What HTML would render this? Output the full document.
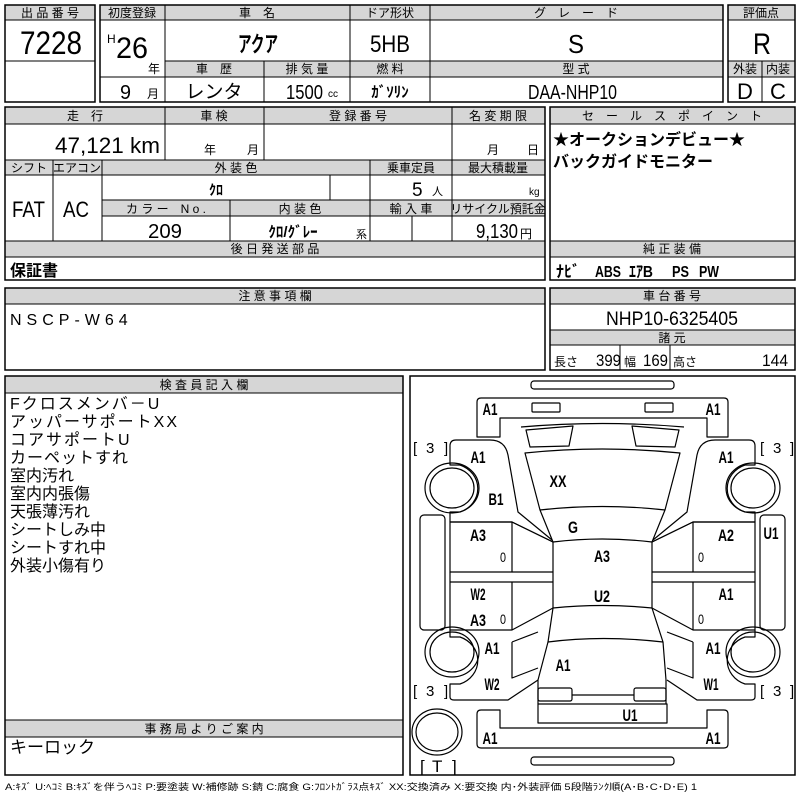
<!DOCTYPE html>
<html><head><meta charset="utf-8"><style>
html,body{margin:0;padding:0;background:#fff;}
svg{display:block;}
text{font-family:"Liberation Sans","Noto Sans CJK JP",sans-serif;fill:#000;}
.h{font-size:12px;text-anchor:middle;}
.m{text-anchor:middle;}
.g{fill:#d6d6d6;}
.b{fill:none;stroke:#000;stroke-width:1.5;}
.l{stroke:#000;stroke-width:1;}
.d{fill:none;stroke:#000;stroke-width:1.2;stroke-linejoin:round;}
.dl{font-size:17px;text-anchor:middle;}
</style></head><body>
<svg width="800" height="800" viewBox="0 0 800 800" xmlns="http://www.w3.org/2000/svg">
<!-- Box 1 -->
<rect class="g" x="5" y="5" width="90" height="15"/>
<rect class="b" x="5" y="5" width="90" height="97"/>
<line class="l" x1="5" y1="20" x2="95" y2="20"/>
<line class="l" x1="5" y1="61" x2="95" y2="61"/>
<text class="h" x="50" y="17">出 品 番 号</text>
<text x="20" y="54" font-size="32" textLength="62" lengthAdjust="spacingAndGlyphs">7228</text>

<!-- Box 2 -->
<rect class="g" x="100" y="5" width="623" height="15"/>
<rect class="g" x="165" y="61" width="558" height="16"/>
<rect class="b" x="100" y="5" width="623" height="97"/>
<line class="l" x1="100" y1="20" x2="723" y2="20"/>
<line class="l" x1="165" y1="61" x2="723" y2="61"/>
<line class="l" x1="165" y1="77" x2="723" y2="77"/>
<line class="l" x1="100" y1="77" x2="165" y2="77"/>
<line class="l" x1="165" y1="5" x2="165" y2="102"/>
<line class="l" x1="350" y1="5" x2="350" y2="102"/>
<line class="l" x1="430" y1="5" x2="430" y2="102"/>
<line class="l" x1="264" y1="61" x2="264" y2="102"/>
<text class="h" x="132" y="17">初度登録</text>
<text class="h" x="257" y="17">車　名</text>
<text class="h" x="390" y="17">ドア形状</text>
<text class="h" x="576" y="17">グ　レ　ー　ド</text>
<text x="107" y="43" font-size="12">H</text>
<text x="116" y="58" font-size="30" textLength="32" lengthAdjust="spacingAndGlyphs">26</text>
<text x="148" y="73" font-size="12">年</text>
<text x="238" y="52" font-size="22" font-weight="bold" textLength="40" lengthAdjust="spacingAndGlyphs">アクア</text>
<text x="370" y="52" font-size="24" textLength="40" lengthAdjust="spacingAndGlyphs">5HB</text>
<text x="568" y="53" font-size="26" textLength="16" lengthAdjust="spacingAndGlyphs">S</text>
<text class="h" x="214" y="73">車　歴</text>
<text class="h" x="307" y="73">排 気 量</text>
<text class="h" x="390" y="73">燃 料</text>
<text class="h" x="576" y="73">型 式</text>
<text x="120" y="99" font-size="20" textLength="11" lengthAdjust="spacingAndGlyphs">9</text>
<text x="147" y="98" font-size="12">月</text>
<text class="m" x="214" y="98" font-size="19">レンタ</text>
<text x="286" y="99" font-size="20" textLength="37" lengthAdjust="spacingAndGlyphs">1500</text>
<text x="328" y="97" font-size="10">cc</text>
<text class="m" x="390" y="97" font-size="15" font-weight="bold">ｶﾞｿﾘﾝ</text>
<text x="528" y="99" font-size="20" textLength="89" lengthAdjust="spacingAndGlyphs">DAA-NHP10</text>

<!-- Box 3 -->
<rect class="g" x="728" y="5" width="67" height="15"/>
<rect class="g" x="728" y="61" width="67" height="16"/>
<rect class="b" x="728" y="5" width="67" height="97"/>
<line class="l" x1="728" y1="20" x2="795" y2="20"/>
<line class="l" x1="728" y1="61" x2="795" y2="61"/>
<line class="l" x1="728" y1="77" x2="795" y2="77"/>
<line class="l" x1="762" y1="61" x2="762" y2="102"/>
<text class="h" x="761" y="17">評価点</text>
<text x="753" y="54" font-size="30" textLength="18" lengthAdjust="spacingAndGlyphs">R</text>
<text class="h" x="745" y="73">外装</text>
<text class="h" x="778" y="73">内装</text>
<text class="m" x="745" y="99" font-size="22">D</text>
<text class="m" x="778" y="99" font-size="22">C</text>

<!-- Row 2 left -->
<rect class="g" x="5" y="107" width="540" height="17"/>
<rect class="g" x="5" y="160" width="540" height="15"/>
<rect class="g" x="102" y="200" width="443" height="16"/>
<rect class="g" x="5" y="241" width="540" height="16"/>
<rect class="b" x="5" y="107" width="540" height="173"/>
<line class="l" x1="5" y1="124" x2="545" y2="124"/>
<line class="l" x1="5" y1="160" x2="545" y2="160"/>
<line class="l" x1="5" y1="175" x2="545" y2="175"/>
<line class="l" x1="102" y1="200" x2="545" y2="200"/>
<line class="l" x1="102" y1="216" x2="545" y2="216"/>
<line class="l" x1="5" y1="241" x2="545" y2="241"/>
<line class="l" x1="5" y1="257" x2="545" y2="257"/>
<line class="l" x1="165" y1="107" x2="165" y2="160"/>
<line class="l" x1="264" y1="107" x2="264" y2="160"/>
<line class="l" x1="452" y1="107" x2="452" y2="241"/>
<line class="l" x1="53" y1="160" x2="53" y2="241"/>
<line class="l" x1="102" y1="160" x2="102" y2="241"/>
<line class="l" x1="370" y1="160" x2="370" y2="241"/>
<line class="l" x1="330" y1="175" x2="330" y2="200"/>
<line class="l" x1="230" y1="200" x2="230" y2="241"/>
<line class="l" x1="412" y1="216" x2="412" y2="241"/>
<text class="h" x="85" y="120">走　行</text>
<text class="h" x="214" y="120">車 検</text>
<text class="h" x="358" y="120">登 録 番 号</text>
<text class="h" x="498" y="120">名 変 期 限</text>
<text x="55" y="153" font-size="22" textLength="105" lengthAdjust="spacingAndGlyphs">47,121 km</text>
<text x="204" y="154" font-size="12">年</text>
<text x="247" y="154" font-size="12">月</text>
<text x="487" y="154" font-size="12">月</text>
<text x="527" y="154" font-size="12">日</text>
<text class="h" x="29" y="172" font-size="11">シフト</text>
<text class="h" x="77" y="172" font-size="11">エアコン</text>
<text class="h" x="236" y="172">外 装 色</text>
<text class="h" x="411" y="172">乗車定員</text>
<text class="h" x="498" y="172">最大積載量</text>
<text x="12" y="217" font-size="22" textLength="33" lengthAdjust="spacingAndGlyphs">FAT</text>
<text x="63" y="217" font-size="22" textLength="26" lengthAdjust="spacingAndGlyphs">AC</text>
<text class="m" x="216" y="195" font-size="14" font-weight="bold">ｸﾛ</text>
<text x="412" y="196" font-size="19">5</text>
<text x="432" y="195" font-size="11">人</text>
<text x="529" y="195" font-size="10">kg</text>
<text class="h" x="166" y="213">カ ラ ー　N o .</text>
<text class="h" x="300" y="213">内 装 色</text>
<text class="h" x="411" y="213">輸 入 車</text>
<text class="h" x="498" y="213" font-size="11">リサイクル預託金</text>
<text x="148" y="238" font-size="20" textLength="34" lengthAdjust="spacingAndGlyphs">209</text>
<text class="m" x="293" y="237" font-size="15" font-weight="bold">ｸﾛ/ｸﾞﾚｰ</text>
<text x="356" y="238" font-size="11">系</text>
<text x="476" y="238" font-size="20" textLength="42" lengthAdjust="spacingAndGlyphs">9,130</text>
<text x="520" y="238" font-size="12">円</text>
<text class="h" x="275" y="253">後 日 発 送 部 品</text>
<text x="10" y="276" font-size="16" font-weight="bold">保証書</text>

<!-- Row 2 right -->
<rect class="g" x="550" y="107" width="245" height="17"/>
<rect class="g" x="550" y="241" width="245" height="16"/>
<rect class="b" x="550" y="107" width="245" height="173"/>
<line class="l" x1="550" y1="124" x2="795" y2="124"/>
<line class="l" x1="550" y1="241" x2="795" y2="241"/>
<line class="l" x1="550" y1="257" x2="795" y2="257"/>
<text class="h" x="672" y="120">セ　ー　ル　ス　ポ　イ　ン　ト</text>
<text x="553" y="145" font-size="16" font-weight="bold">★オークションデビュー★</text>
<text x="553" y="167" font-size="16" font-weight="bold">バックガイドモニター</text>
<text class="h" x="672" y="253">純 正 装 備</text>
<g font-size="16" font-weight="bold">
<text x="556" y="277">ﾅﾋﾞ</text>
<text x="595" y="277" textLength="26" lengthAdjust="spacingAndGlyphs">ABS</text>
<text x="629" y="277" textLength="24" lengthAdjust="spacingAndGlyphs">ｴｱB</text>
<text x="672" y="277" textLength="17" lengthAdjust="spacingAndGlyphs">PS</text>
<text x="699" y="277" textLength="20" lengthAdjust="spacingAndGlyphs">PW</text>
</g>

<!-- Row 3 -->
<rect class="g" x="5" y="288" width="540" height="16"/>
<rect class="b" x="5" y="288" width="540" height="82"/>
<line class="l" x1="5" y1="304" x2="545" y2="304"/>
<text class="h" x="275" y="300">注 意 事 項 欄</text>
<text x="10" y="325" font-size="16" letter-spacing="5">NSCP-W64</text>

<rect class="g" x="550" y="288" width="245" height="16"/>
<rect class="g" x="550" y="330" width="245" height="15"/>
<rect class="b" x="550" y="288" width="245" height="82"/>
<line class="l" x1="550" y1="304" x2="795" y2="304"/>
<line class="l" x1="550" y1="330" x2="795" y2="330"/>
<line class="l" x1="550" y1="345" x2="795" y2="345"/>
<line class="l" x1="620" y1="345" x2="620" y2="370"/>
<line class="l" x1="670" y1="345" x2="670" y2="370"/>
<text class="h" x="672" y="300">車 台 番 号</text>
<text x="606" y="325" font-size="19" textLength="132" lengthAdjust="spacingAndGlyphs">NHP10-6325405</text>
<text class="h" x="672" y="342">諸 元</text>
<text x="554" y="366" font-size="12">長さ</text>
<text x="596" y="366" font-size="17" textLength="25" lengthAdjust="spacingAndGlyphs">399</text>
<text x="624" y="366" font-size="12">幅</text>
<text x="643" y="366" font-size="17" textLength="25" lengthAdjust="spacingAndGlyphs">169</text>
<text x="673" y="366" font-size="12">高さ</text>
<text x="762" y="366" font-size="17" textLength="26" lengthAdjust="spacingAndGlyphs">144</text>

<!-- Row 4 left -->
<rect class="g" x="5" y="376" width="398" height="17"/>
<rect class="g" x="5" y="720" width="398" height="17"/>
<rect class="b" x="5" y="376" width="398" height="399"/>
<line class="l" x1="5" y1="393" x2="403" y2="393"/>
<line class="l" x1="5" y1="720" x2="403" y2="720"/>
<line class="l" x1="5" y1="737" x2="403" y2="737"/>
<text class="h" x="204" y="389">検 査 員 記 入 欄</text>
<g font-size="16">
<text x="10" y="409" letter-spacing="2">Fクロスメンバ－U</text>
<text x="10" y="427" letter-spacing="2">アッパーサポートXX</text>
<text x="10" y="445" letter-spacing="2">コアサポートU</text>
<text x="10" y="463" letter-spacing="1">カーペットすれ</text>
<text x="10" y="481">室内汚れ</text>
<text x="10" y="499">室内内張傷</text>
<text x="10" y="517">天張薄汚れ</text>
<text x="10" y="535">シートしみ中</text>
<text x="10" y="553">シートすれ中</text>
<text x="10" y="571">外装小傷有り</text>
</g>
<text class="h" x="204" y="733">事 務 局 よ り ご 案 内</text>
<text x="10" y="753" font-size="17">キーロック</text>

<!-- Diagram box -->
<rect class="b" x="410" y="376" width="385" height="399"/>
<g class="d">
<rect x="531" y="381" width="143" height="8" rx="3"/>
<rect x="531" y="757" width="143" height="8" rx="3"/>
<path d="M481,398 H724 Q728,398 728,402 V437 H707 V418 H500 V437 H477 V402 Q477,398 481,398 Z"/>
<rect x="532" y="403" width="28" height="9" rx="1"/>
<rect x="645" y="403" width="28" height="9" rx="1"/>
<path d="M521,427 Q602,420 684,427"/>
<path d="M526,430 L573,426 L569,446 L530,447 Z"/>
<path d="M679,430 L632,426 L636,446 L675,447 Z"/>
<path d="M525,453 Q602,445 680,453 L665,510 Q602,503 540,510 Z"/>
<path d="M540,510 L553,542 Q602,536 652,542 L665,510"/>
<path d="M553,542 V608 Q602,603 652,608 V542"/>
<path d="M553,608 L548,642 Q602,635 663,642 L652,608"/>
<path d="M548,642 L538,680 V704"/>
<path d="M663,642 L666,680 V704"/>
<rect x="538" y="688" width="34" height="13" rx="2"/>
<rect x="634" y="688" width="32" height="13" rx="2"/>
<line x1="572" y1="695" x2="634" y2="695"/>
<rect x="538" y="704" width="129" height="19"/>
<path d="M481,748 H724 Q728,748 728,744 V714 Q728,710 724,710 H707 V728 H500 V710 H481 Q477,710 477,714 V744 Q477,748 481,748 Z"/>
<g id="side">
<path d="M456,440 H490 Q505,440 508,455 L518,512 L552,540"/>
<path d="M456,440 Q450,440 450,446 V465 H460"/>
<path d="M460,465 A27,25 0 0 1 460,512 H450 V522"/>
<path d="M450,522 H512 L553,542"/>
<rect x="450" y="522" width="62" height="50" fill="none"/>
<path d="M512,522 L553,542 M512,572 H553 M450,572 V582 H553 M512,582 V630 L553,608 M450,582 V630 H512"/>
<path d="M450,630 V637 H460 A27,25 0 0 1 460,684 H450 V697 Q450,700 454,700 H508 L538,680"/>
<path d="M512,642 L538,632 M512,642 V678 L538,668"/>
<rect x="420" y="515" width="25" height="115" rx="4"/>
<ellipse cx="452" cy="488" rx="27" ry="25"/>
<ellipse cx="452" cy="488" rx="22" ry="20"/>
<ellipse cx="452" cy="652" rx="27" ry="25"/>
<ellipse cx="452" cy="652" rx="22" ry="20"/>
</g>
<use href="#side" transform="translate(1205,0) scale(-1,1)"/>
<ellipse cx="437" cy="732" rx="25" ry="23"/>
<ellipse cx="437" cy="732" rx="21" ry="19"/>
</g>
<g class="dl" font-weight="bold">
<text x="490" y="415" textLength="15" lengthAdjust="spacingAndGlyphs">A1</text><text x="713" y="415" textLength="15" lengthAdjust="spacingAndGlyphs">A1</text>
<text x="478" y="463" textLength="15" lengthAdjust="spacingAndGlyphs">A1</text><text x="726" y="463" textLength="15" lengthAdjust="spacingAndGlyphs">A1</text>
<text x="558" y="487" textLength="17" lengthAdjust="spacingAndGlyphs">XX</text>
<text x="496" y="505" textLength="15" lengthAdjust="spacingAndGlyphs">B1</text>
<text x="573" y="533" textLength="10" lengthAdjust="spacingAndGlyphs">G</text>
<text x="478" y="541" textLength="16" lengthAdjust="spacingAndGlyphs">A3</text><text x="726" y="541" textLength="16" lengthAdjust="spacingAndGlyphs">A2</text>
<text x="771" y="539" textLength="15" lengthAdjust="spacingAndGlyphs">U1</text>
<text x="602" y="562" textLength="16" lengthAdjust="spacingAndGlyphs">A3</text>
<text x="478" y="600" textLength="15" lengthAdjust="spacingAndGlyphs">W2</text><text x="726" y="600" textLength="15" lengthAdjust="spacingAndGlyphs">A1</text>
<text x="602" y="602" textLength="16" lengthAdjust="spacingAndGlyphs">U2</text>
<text x="478" y="626" textLength="16" lengthAdjust="spacingAndGlyphs">A3</text>
<text x="492" y="654" textLength="15" lengthAdjust="spacingAndGlyphs">A1</text><text x="713" y="654" textLength="15" lengthAdjust="spacingAndGlyphs">A1</text>
<text x="563" y="671" textLength="15" lengthAdjust="spacingAndGlyphs">A1</text>
<text x="492" y="690" textLength="15" lengthAdjust="spacingAndGlyphs">W2</text><text x="711" y="690" textLength="15" lengthAdjust="spacingAndGlyphs">W1</text>
<text x="630" y="721" textLength="15" lengthAdjust="spacingAndGlyphs">U1</text>
<text x="490" y="744" textLength="15" lengthAdjust="spacingAndGlyphs">A1</text><text x="713" y="744" textLength="15" lengthAdjust="spacingAndGlyphs">A1</text>
</g>
<g font-size="14" text-anchor="middle">
<text x="503" y="562" textLength="6" lengthAdjust="spacingAndGlyphs">0</text><text x="701" y="562" textLength="6" lengthAdjust="spacingAndGlyphs">0</text>
<text x="503" y="624" textLength="6" lengthAdjust="spacingAndGlyphs">0</text><text x="701" y="624" textLength="6" lengthAdjust="spacingAndGlyphs">0</text>
</g>
<g font-size="15">
<text x="413" y="453">[</text><text x="426" y="453">3</text><text x="444" y="453">]</text>
<text x="760" y="453">[</text><text x="773" y="453">3</text><text x="790" y="453">]</text>
<text x="413" y="696">[</text><text x="426" y="696">3</text><text x="444" y="696">]</text>
<text x="760" y="696">[</text><text x="773" y="696">3</text><text x="790" y="696">]</text>
<text x="420" y="772" font-size="17">[</text><text x="432" y="772" font-size="17">T</text><text x="452" y="772" font-size="17">]</text>
</g>
<text x="5" y="790" font-size="9" textLength="692" lengthAdjust="spacingAndGlyphs">A:ｷｽﾞ  U:ﾍｺﾐ  B:ｷｽﾞを伴うﾍｺﾐ  P:要塗装  W:補修跡  S:錆  C:腐食  G:ﾌﾛﾝﾄｶﾞﾗｽ点ｷｽﾞ  XX:交換済み  X:要交換  内･外装評価 5段階ﾗﾝｸ順(A･B･C･D･E) 1</text>
</svg>
</body></html>
